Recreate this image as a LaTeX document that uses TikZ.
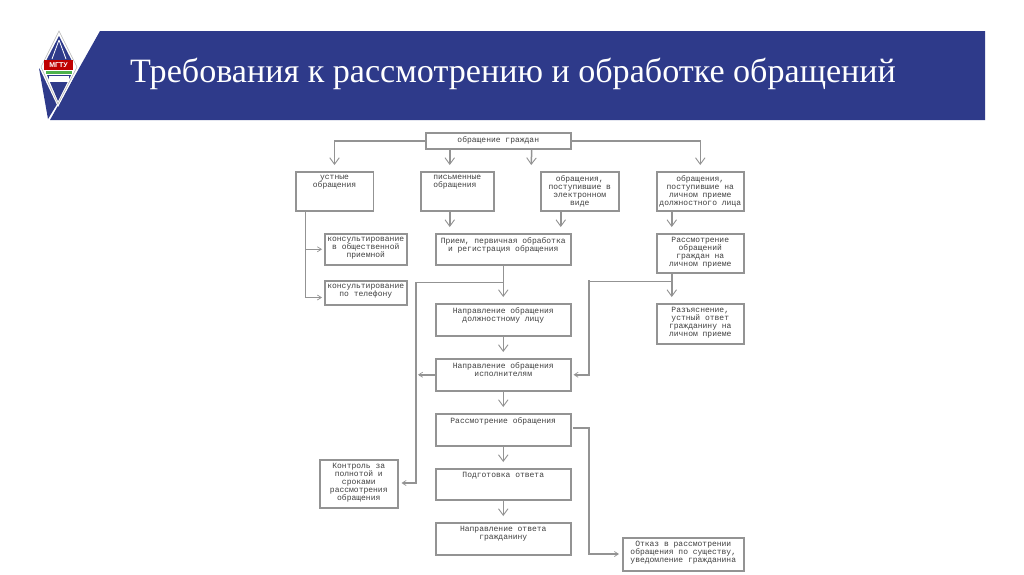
\documentclass[tikz,border=0pt]{standalone}
\usepackage{fontspec}
\setmainfont{Liberation Serif}
\setmonofont{Liberation Mono}
\setsansfont{Liberation Sans}
\usetikzlibrary{arrows.meta,positioning,calc}
\definecolor{band}{HTML}{2E3A8A}
\definecolor{wire}{HTML}{939393}
\definecolor{txt}{HTML}{404040}
\tikzset{
  x=1pt,y=-1pt,
  flowbox/.style={draw=wire,line width=1.5pt,fill=white,inner sep=0pt,anchor=north west},
  boxtext/.style={text=txt,font=\ttfamily\fontsize{8}{8}\selectfont,align=center,anchor=north,inner sep=0pt},
  bigarrow/.style={draw=wire,line width=1.5pt,-{Straight Barb[width=9.5pt,length=6.5pt,line width=.9pt]},shorten >=6pt},
  smallarrow/.style={draw=wire,line width=1.5pt,-{Straight Barb[width=5pt,length=4pt,line width=.7pt]}},
  plainline/.style={draw=wire,line width=1.5pt},
}
\newcommand{\fbx}[6]{% name, x1,y1,x2,y2, text
  \pgfmathsetmacro{\bw}{#4-#2}\pgfmathsetmacro{\bh}{#5-#3}
  \node[flowbox,minimum width=\bw pt,minimum height=\bh pt] (#1) at (#2,#3) {};
  \node[boxtext] (#1t) at ($(#1.north)+(0,4)$) {#6};
}
\begin{document}
\begin{tikzpicture}
\useasboundingbox (0,0) rectangle (1024,574);
\fill[white] (0,0) rectangle (1024,574);
% header band
\fill[band] (100,31) -- (985,31) -- (985,120) -- (50,120) -- cycle;
\node[text=white,font=\fontsize{34.1}{34}\selectfont,anchor=west,inner sep=0pt] (title) at (130,74) {Требования к рассмотрению и обработке обращений};
% logo
\fill[band] (39,68) -- (48,119) -- (62,96) -- cycle;
\fill[white] (59,29) -- (79,67) -- (58,107) -- (39,67) -- cycle;
\draw[wire!70,line width=.6pt] (59,31) -- (77,67) -- (58,104) -- (41,67) -- cycle;
\fill[band] (59,36) -- (72,61) -- (46,61) -- cycle;
\draw[white,line width=.8pt] (59,40) -- (52,59) (59,40) -- (66,59);
\fill[band] (47,75) -- (71,75) -- (58,101) -- cycle;
\fill[white] (49,76) rectangle (69,82);
\fill[green!40!gray] (46,71) rectangle (72,74);
\fill[red!75!black] (44,60) rectangle (73,70);
\node[text=white,font=\sffamily\bfseries\fontsize{7}{7}\selectfont,inner sep=0pt] (mgtu) at (58.5,65) {МГТУ};
% boxes
\fbx{main}{425}{132}{570}{148}{обращение граждан}
\fbx{ust}{295}{171}{372.5}{210}{устные\\обращения}
\fbx{pis}{420}{171}{493}{210}{письменные\\обращения\hspace*{4.8pt}}
\fbx{ele}{540}{171}{618}{210}{обращения,\\поступившие в\\электронном\\виде}
\fbx{lic}{656}{171}{743}{210}{обращения,\\поступившие на\\личном приеме\\должностного лица}
\fbx{kon}{324}{233}{406}{264}{консультирование\\в общественной\\приемной}
\fbx{tel}{324}{280}{406}{304}{консультирование\\по телефону}
\fbx{pri}{435}{233}{570}{264}{Прием, первичная обработка\\и регистрация обращения}
\fbx{rgr}{656}{233}{743}{272}{Рассмотрение\\обращений\\граждан на\\личном приеме}
\fbx{dol}{435}{303}{570}{335}{Направление обращения\\должностному лицу}
\fbx{raz}{656}{303}{743}{343}{Разъяснение,\\устный ответ\\гражданину на\\личном приеме}
\fbx{isp}{435}{358}{570}{390}{Направление обращения\\исполнителям}
\fbx{ras}{435}{413}{570}{445}{Рассмотрение обращения}
\fbx{pod}{435}{468}{570}{499}{Подготовка ответа}
\fbx{otv}{435}{522}{570}{554}{Направление ответа\\гражданину}
\fbx{ktr}{319}{459}{397}{507}{Контроль за\\полнотой и\\сроками\\рассмотрения\\обращения}
\fbx{otk}{622}{537}{743}{570}{Отказ в рассмотрении\\обращения по существу,\\уведомление гражданина}
% free ends
\coordinate (elefree) at (531,171);
\coordinate (rasstart) at (573,428);
\coordinate (bl) at (589,280);
% connectors
\draw[bigarrow] (main.west) -| (ust.north);
\draw[bigarrow] (main.east) -| (lic.north);
\draw[bigarrow] ([xshift=-48.5pt]main.south) -- ([xshift=-7.5pt]pis.north);
\draw[bigarrow] ([xshift=33.5pt]main.south) -- (elefree);
\draw[bigarrow] ([xshift=-7.5pt]pis.south) -- ([xshift=-53.5pt]pri.north);
\draw[bigarrow] ([xshift=-19pt]ele.south) -- ([xshift=57.5pt]pri.north);
\draw[bigarrow] ([xshift=-28.5pt]lic.south) -- ([xshift=-28.5pt]rgr.north);
\draw[bigarrow] ([xshift=-28.5pt]rgr.south) -- ([xshift=-28.5pt]raz.north);
\draw[bigarrow] (pri.south) -- (dol.north);
\draw[bigarrow] (dol.south) -- (isp.north);
\draw[bigarrow] (isp.south) -- (ras.north);
\draw[bigarrow] (ras.south) -- (pod.north);
\draw[bigarrow] (pod.south) -- (otv.north);
% side branches
\draw[plainline] ([xshift=-29pt]ust.south) -- ++(0,86) coordinate (ustend);
\draw[smallarrow,shorten >=2pt] ([xshift=-29pt]ust.south |- kon.west) -- (kon.west);
\draw[smallarrow,shorten >=2pt] (ustend) -- (tel.west |- ustend);
\draw[smallarrow,shorten >=2pt] ([xshift=-28.5pt,yshift=-8pt]rgr.south) -| (bl) |- (isp.east);
\draw[smallarrow,shorten >=3pt] ([yshift=-17pt]pri.south) -| (416,483) -- (ktr.east |- 0,483);
\draw[smallarrow] (isp.west) -- (isp.west -| 418,0);
\draw[smallarrow,shorten >=3pt] (rasstart) -| (589,554) -- (otk.west |- 0,554);
\end{tikzpicture}
\end{document}
